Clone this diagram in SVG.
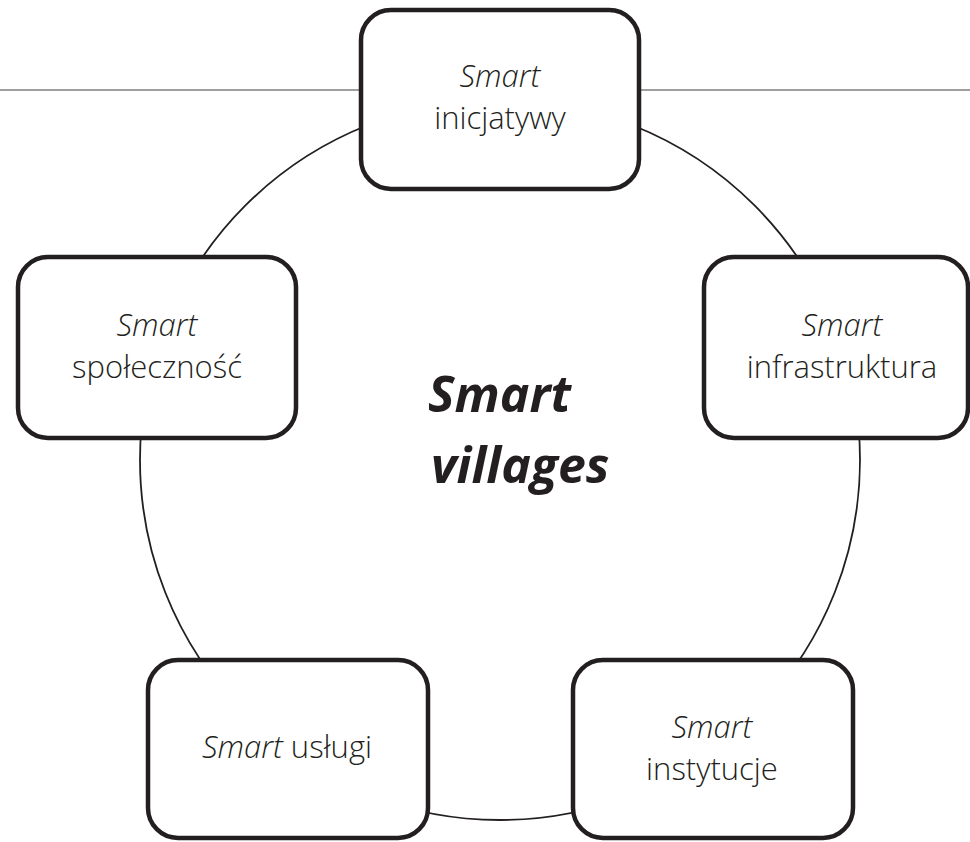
<svg xmlns="http://www.w3.org/2000/svg" width="970" height="842" viewBox="0 0 970 842">
<style>
.box{fill:#fff;stroke:#231f20;stroke-width:4.5}
.lbl{font-family:"Open Sans","Liberation Sans",sans-serif;font-weight:300;font-size:31px;fill:#231f20;text-anchor:middle}
.it{font-style:italic}
.big{font-family:"Open Sans","Liberation Sans",sans-serif;font-weight:700;font-style:italic;font-size:50px;fill:#231f20}
</style>
<rect width="970" height="842" fill="#fff"/>
<g id="connectors">
<line x1="0" y1="90" x2="970" y2="90" stroke="#7f7f7f" stroke-width="1.5"/>
<circle cx="500" cy="460" r="360" fill="none" stroke="#231f20" stroke-width="1.8"/>
</g>
<g id="center">
<text class="big" x="428" y="412">Smart</text>
<text class="big" x="431" y="483">villages</text>
</g>
<g id="inicjatywy">
<rect class="box" x="361" y="10" width="278" height="179" rx="30"/>
<text class="lbl" x="500" y="87"><tspan class="it">Smart</tspan><tspan x="500" y="129">inicjatywy</tspan></text>
</g>
<g id="spolecznosc">
<rect class="box" x="18" y="257" width="278" height="181" rx="30"/>
<text class="lbl" x="157" y="336"><tspan class="it">Smart</tspan><tspan x="157" y="378">społeczność</tspan></text>
</g>
<g id="infrastruktura">
<rect class="box" x="704" y="257" width="264" height="181" rx="30"/>
<text class="lbl" x="842" y="336"><tspan class="it">Smart</tspan><tspan x="842" y="378">infrastruktura</tspan></text>
</g>
<g id="uslugi">
<rect class="box" x="148" y="660" width="280" height="178" rx="30"/>
<text class="lbl" x="287" y="758"><tspan class="it">Smart</tspan> usługi</text>
</g>
<g id="instytucje">
<rect class="box" x="573" y="660" width="280" height="178" rx="30"/>
<text class="lbl" x="712" y="738"><tspan class="it">Smart</tspan><tspan x="712" y="780">instytucje</tspan></text>
</g>
</svg>
